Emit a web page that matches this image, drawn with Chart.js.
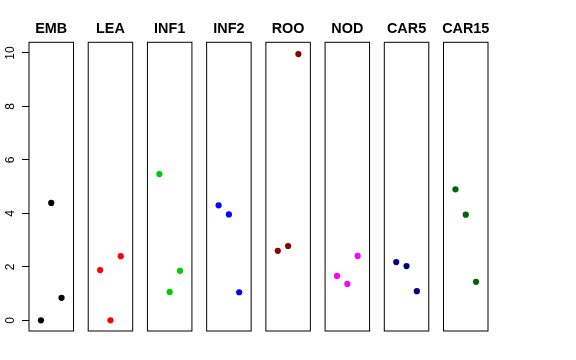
<!DOCTYPE html>
<html>
<head>
<meta charset="utf-8">
<script src="https://cdn.jsdelivr.net/npm/chart.js@4/dist/chart.umd.min.js"></script>
<style>
html,body{margin:0;padding:0;background:#fff;}
#wrap{position:relative;width:576px;height:360px;}
</style>
</head>
<body>
<div id="wrap"><canvas id="c" width="576" height="360"></canvas></div>
<script>
// ---- data ----
const categories = ["EMB", "LEA", "INF1", "INF2", "ROO", "NOD", "CAR5", "CAR15"];
const colors = ["#000000", "#FF0000", "#00CD00", "#0000FF", "#8B0000", "#FF00FF", "#000080", "#006400"];
const EMB   = [0.00, 4.39, 0.84];
const LEA   = [1.88, 0.00, 2.40];
const INF1  = [5.47, 1.06, 1.85];
const INF2  = [4.30, 3.96, 1.05];
const ROO   = [2.60, 2.78, 9.96];
const NOD   = [1.66, 1.36, 2.41];
const CAR5  = [2.18, 2.03, 1.09];
const CAR15 = [4.90, 3.95, 1.44];
const seriesValues = [EMB, LEA, INF1, INF2, ROO, NOD, CAR5, CAR15];
const yTicks = [0, 2, 4, 6, 8, 10];

// ---- layout of panels in x-scale units ----
const PANEL_STEP = 5.75;     // distance between panel origins
const PANEL_LO = -0.16, PANEL_HI = 4.16; // panel extent (x 0..4 with 4% extension)

const datasets = seriesValues.map((vals, i) => ({
  label: categories[i],
  data: vals.map((v, j) => ({x: i * PANEL_STEP + (j + 1), y: v})),
  backgroundColor: colors[i],
  borderColor: colors[i],
  pointRadius: 3.1,
  pointHoverRadius: 3.1,
  borderWidth: 0,
  showLine: false,
  clip: false
}));

const panelBoxes = {
  id: 'panelBoxes',
  afterDatasetsDraw(chart) {
    const {ctx, chartArea, scales} = chart;
    const xs = scales.x;
    ctx.save();
    ctx.strokeStyle = '#000';
    ctx.lineWidth = 1;
    categories.forEach((c, i) => {
      const l = xs.getPixelForValue(i * PANEL_STEP + PANEL_LO);
      const r = xs.getPixelForValue(i * PANEL_STEP + PANEL_HI);
      ctx.strokeRect(l, chartArea.top, r - l, chartArea.bottom - chartArea.top);
    });
    ctx.restore();
  }
};

new Chart(document.getElementById('c'), {
  type: 'scatter',
  data: {datasets},
  options: {
    responsive: false,
    animation: false,
    devicePixelRatio: 1,
    layout: {padding: {left: 0, right: 88, top: 0, bottom: 29}},
    plugins: {legend: {display: false}, tooltip: {enabled: false}, title: {display: false}},
    scales: {
      x: {
        type: 'linear',
        display: false,
        min: PANEL_LO,
        max: 7 * PANEL_STEP + PANEL_HI
      },
      x2: {
        type: 'linear',
        position: 'top',
        min: PANEL_LO,
        max: 7 * PANEL_STEP + PANEL_HI,
        grid: {display: false, drawTicks: false},
        border: {display: false},
        afterBuildTicks: s => { s.ticks = categories.map((c, i) => ({value: i * PANEL_STEP + 2})); },
        afterFit: s => { s.height = 42.3; },
        ticks: {
          autoSkip: false,
          maxRotation: 0, minRotation: 0,
          padding: 4.5,
          color: '#000',
          font: {family: '"Liberation Sans", Arial, Helvetica, sans-serif', size: 14.4, weight: 'bold'},
          callback: (v, idx) => categories[idx]
        }
      },
      y: {
        type: 'linear',
        position: 'left',
        min: -0.4,
        max: 10.4,
        afterBuildTicks: s => { s.ticks = yTicks.map(v => ({value: v})); },
        afterFit: s => { s.width = 29; },
        grid: {drawOnChartArea: false, drawTicks: true, tickLength: 7, color: '#000', tickColor: '#000'},
        border: {display: false},
        ticks: {
          autoSkip: false,
          minRotation: 90, maxRotation: 90,
          crossAlign: 'center',
          padding: 5,
          color: '#000',
          font: {family: '"Liberation Sans", Arial, Helvetica, sans-serif', size: 12},
          callback: v => String(v)
        }
      }
    }
  },
  plugins: [panelBoxes]
});
</script>
</body>
</html>
